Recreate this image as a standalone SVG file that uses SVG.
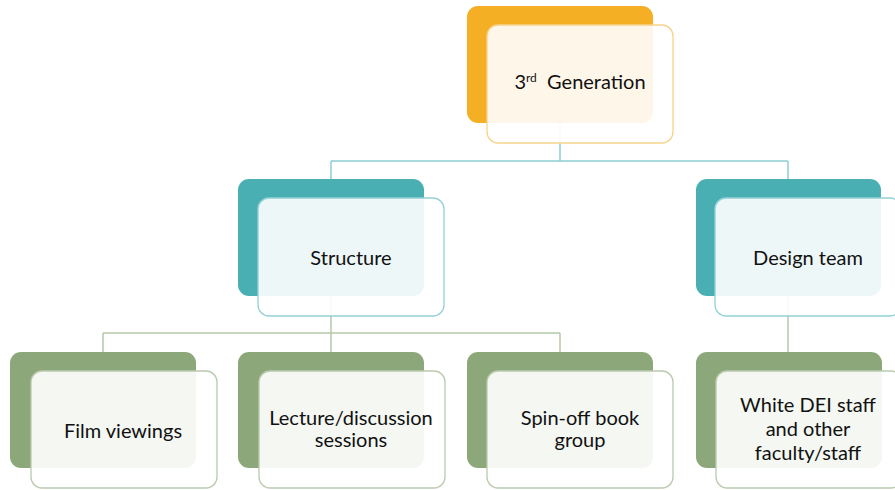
<svg xmlns="http://www.w3.org/2000/svg" width="895" height="490" viewBox="0 0 895 490">
  <style>
    .back { stroke: none; }
    .front { fill: #ffffff; fill-opacity: 0.9; stroke-width: 1.3; }
    .orange .back { fill: #F5AF25; }
    .orange .front { stroke: #F6D38C; }
    .teal .back { fill: #4AAFB3; }
    .teal .front { stroke: #93D2D5; }
    .green .back { fill: #8CA87A; }
    .green .front { stroke: #BBCAAE; }
    .label { font-family: Lato, "Liberation Sans", sans-serif; font-size: 20px; fill: #111111; text-anchor: middle; }
    .link-teal { fill: none; stroke: #8FCFD1; stroke-width: 1.5; }
    .link-green { fill: none; stroke: #B7C7AA; stroke-width: 1.5; }
  </style>

  <g id="connectors">
    <path class="link-teal" d="M560,64 V161 M331,161 H788 M331,161 V240 M788,161 V240"/>
    <path class="link-green" d="M331,240 V333 M103,333 H560 M103,333 V400 M331,333 V400 M560,333 V400 M788,240 V400"/>
  </g>

  <g id="node-3rd-generation" class="orange">
    <rect class="back" x="467" y="6" width="186" height="117" rx="11"/>
    <rect class="front" x="487" y="25" width="186" height="118" rx="11"/>
    <text class="label" x="580" y="89">3<tspan font-size="12" dy="-7">rd</tspan><tspan dy="7" xml:space="preserve">  Generation</tspan></text>
  </g>

  <g id="node-structure" class="teal">
    <rect class="back" x="238" y="179" width="186" height="117" rx="11"/>
    <rect class="front" x="258" y="198" width="186" height="118" rx="11"/>
    <text class="label" x="351" y="265">Structure</text>
  </g>

  <g id="node-design-team" class="teal">
    <rect class="back" x="696" y="179" width="185" height="117" rx="11"/>
    <rect class="front" x="715" y="198" width="186" height="118" rx="11"/>
    <text class="label" x="808" y="265">Design team</text>
  </g>

  <g id="node-film-viewings" class="green">
    <rect class="back" x="10" y="352" width="186" height="116" rx="11"/>
    <rect class="front" x="31" y="371" width="186" height="117" rx="11"/>
    <text class="label" x="123" y="438">Film viewings</text>
  </g>

  <g id="node-lecture-sessions" class="green">
    <rect class="back" x="238" y="352" width="186" height="116" rx="11"/>
    <rect class="front" x="259" y="371" width="186" height="117" rx="11"/>
    <text class="label" x="351" y="425">Lecture/discussion</text>
    <text class="label" x="351" y="447">sessions</text>
  </g>

  <g id="node-spin-off-book-group" class="green">
    <rect class="back" x="467" y="352" width="186" height="116" rx="11"/>
    <rect class="front" x="487" y="371" width="186" height="117" rx="11"/>
    <text class="label" x="580" y="425">Spin-off book</text>
    <text class="label" x="580" y="447">group</text>
  </g>

  <g id="node-white-dei-staff" class="green">
    <rect class="back" x="696" y="352" width="186" height="116" rx="11"/>
    <rect class="front" x="716" y="371" width="186" height="117" rx="11"/>
    <text class="label" x="808" y="412">White DEI staff</text>
    <text class="label" x="808" y="436">and other</text>
    <text class="label" x="808" y="460">faculty/staff</text>
  </g>
</svg>
